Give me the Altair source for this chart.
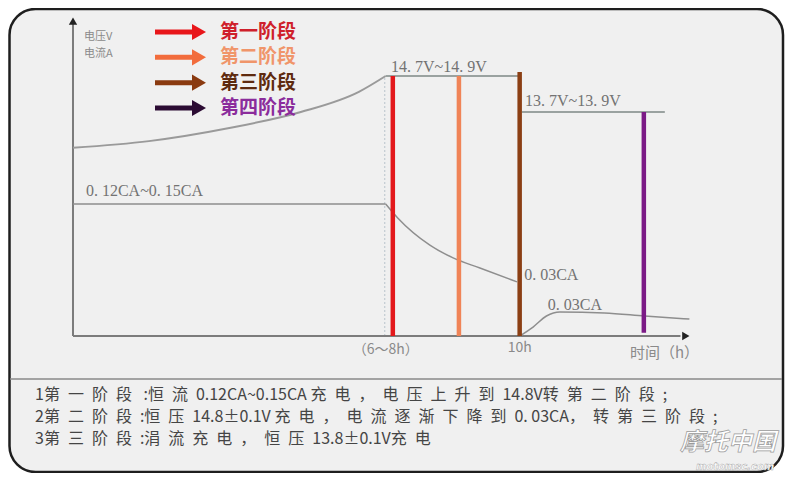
import altair as alt
import pandas as pd

# ---------------- data (time in hours, level in relative units, 0 = baseline) ----------------
volt_h = [0, 1.7, 3.5, 5.1, 6.4, 7.0, 10.0]
volt_lv = [58.8, 60.9, 65.0, 70.0, 76.3, 81.25, 81.25]
float_h = [10.05, 13.25]
float_lv = [70.0, 70.0]
cur1_h = [0, 7.0, 7.27, 7.99, 8.51, 9.11, 9.94]
cur1_lv = [41.25, 41.25, 36.9, 28.4, 24.4, 21.25, 16.9]
cur3_h = [10.0, 10.3, 10.6, 10.9, 11.9, 12.8, 13.8]
cur3_lv = [0, 2.8, 6.25, 7.5, 7.2, 6.25, 5.3]

stages = ["第一阶段", "第二阶段", "第三阶段", "第四阶段"]
stage_h = [7.16, 8.64, 10.0, 12.78]
stage_top = [81.25, 81.25, 82.5, 70.0]
stage_bottom = [0, 0, 0, 1]
bar_colors = ["#e3191c", "#f08457", "#8b3f14", "#7b1a86"]
arrow_colors = ["#e8161a", "#f26c3c", "#8a3a10", "#2b0b33"]
label_colors = ["#cf1f2b", "#f0956a", "#5e2a0e", "#8b2c9c"]

value_labels = ["14. 7V~14. 9V", "13. 7V~13. 9V", "0. 12CA~0. 15CA", "0. 03CA", "0. 03CA"]
value_label_h = [7.12, 10.12, 0.29, 10.1, 10.63]
value_label_lv = [84.0, 73.4, 45.3, 19.0, 9.7]

tick_labels = ["（6～8h）", "10h", "时间（h）"]
tick_h = [7.0, 10.0, 12.47]
tick_lv = [-4.4, -3.8, -5.3]

axis_labels = ["电压V", "电流A"]

notes = [
    "1第一阶段 :恒流0.12CA~0.15CA 充电，电压上升到14.8V转第二阶段;",
    "2第二阶段:恒压14.8±0.1V 充电，电流逐渐下降到0. 03CA，转第三阶段;",
    "3第三阶段:涓流充电，恒压13.8±0.1V充电",
]


def spaced(s):
    # the reference sets its CJK glyphs with extra tracking
    out = []
    for ch in s:
        out.append(ch)
        if ord(ch) > 0x2E80:
            out.append("\u2002")
    return "".join(out)


# ---------------- scales ----------------
X = alt.Scale(domain=[-1.4552, 15.9627], nice=False, zero=False)
Y = alt.Scale(domain=[-42.8125, 102.5], nice=False, zero=False)
XE = alt.X("h:Q", scale=X, axis=None)
YE = alt.Y("lv:Q", scale=Y, axis=None)

one = pd.DataFrame({"a": [0]})

frame = alt.Chart(one).mark_rect(
    cornerRadius=26, fill="#f0f0f0", stroke="#1e1e1e", strokeWidth=2.5
).encode(x=alt.value(1.5), x2=alt.value(775), y=alt.value(1), y2=alt.value(464))

sep = alt.Chart(one).mark_rule(color="#8a8a8a", strokeWidth=1.5).encode(
    x=alt.value(2), x2=alt.value(774), y=alt.value(371)
)

yaxis = alt.Chart(pd.DataFrame({"h": [0, 0], "lv": [0, 97.5]})).mark_line(
    color="#7c7c7c", strokeWidth=2).encode(x=XE, y=YE)
xaxis = alt.Chart(pd.DataFrame({"h": [0, 13.6], "lv": [0, 0]})).mark_line(
    color="#7c7c7c", strokeWidth=2).encode(x=XE, y=YE)
yhead = alt.Chart(pd.DataFrame({"h": [0], "lv": [98.4]})).mark_point(
    shape="triangle-up", filled=True, size=70, color="#222", opacity=1).encode(x=XE, y=YE)
xhead = alt.Chart(pd.DataFrame({"h": [13.72], "lv": [0]})).mark_point(
    shape="triangle-right", filled=True, size=70, color="#222", opacity=1).encode(x=XE, y=YE)

dotted = alt.Chart(pd.DataFrame({"h": [6.98, 6.98], "lv": [0, 81.25]})).mark_line(
    color="#b8c4cc", strokeWidth=1, strokeDash=[2, 2]).encode(x=XE, y=YE)


def curve(hs, lvs, color, width, interp="linear"):
    df = pd.DataFrame({"h": hs, "lv": lvs, "o": range(len(hs))})
    return alt.Chart(df).mark_line(color=color, strokeWidth=width, interpolate=interp).encode(
        x=XE, y=YE, order="o:Q")


volt = curve(volt_h[:6], volt_lv[:6], "#9a9a9a", 2, "monotone")
volt_flat = curve(volt_h[5:], volt_lv[5:], "#9aa2a0", 2)
flt = curve(float_h, float_lv, "#9aa2a0", 2)
cur1a = curve(cur1_h[:2], cur1_lv[:2], "#8e8e8e", 1.5)
cur1b = curve(cur1_h[1:], cur1_lv[1:], "#8e8e8e", 1.5, "monotone")
cur3 = curve(cur3_h, cur3_lv, "#8e8e8e", 1.5, "monotone")

bars_df = pd.DataFrame({"stage": stages, "h": stage_h, "top": stage_top, "bottom": stage_bottom})
bars = alt.Chart(bars_df).mark_rule(strokeWidth=4.5).encode(
    x=XE,
    y=alt.Y("bottom:Q", scale=Y, axis=None),
    y2="top:Q",
    color=alt.Color("stage:N", scale=alt.Scale(domain=stages, range=bar_colors), legend=None),
)

vl_df = pd.DataFrame({"t": value_labels, "h": value_label_h, "lv": value_label_lv})
vlabels = alt.Chart(vl_df).mark_text(
    align="left", baseline="middle", font="Liberation Serif", fontSize=16, color="#737373"
).encode(x=XE, y=YE, text="t:N")

tk_df = pd.DataFrame({"t": tick_labels, "h": tick_h, "lv": tick_lv})
tk_center = alt.Chart(tk_df.iloc[:2]).mark_text(
    align="center", baseline="middle", font="Noto Sans CJK SC", fontSize=14, color="#8a8a8a"
).encode(x=XE, y=YE, text="t:N")
tk_left = alt.Chart(tk_df.iloc[2:]).mark_text(
    align="left", baseline="middle", font="Noto Sans CJK SC", fontSize=15, color="#8a8a8a"
).encode(x=XE, y=YE, text="t:N")

axlab = alt.Chart(pd.DataFrame({"t": axis_labels})).mark_text(
    align="left", baseline="middle", font="Noto Sans CJK SC", fontSize=11, color="#8a8a8a"
).encode(
    x=alt.value(76),
    y=alt.Y("t:N", scale=alt.Scale(type="point", domain=axis_labels, range=[29, 46], padding=0), axis=None),
    text="t:N",
)

leg_df = pd.DataFrame({"stage": stages})
LY = alt.Y("stage:N", scale=alt.Scale(type="point", domain=stages, range=[24, 100], padding=0), axis=None)
leg_shaft = alt.Chart(leg_df).mark_rule(strokeWidth=5).encode(
    x=alt.value(147), x2=alt.value(186), y=LY,
    color=alt.Color("stage:N", scale=alt.Scale(domain=stages, range=arrow_colors), legend=None),
)
leg_head = alt.Chart(leg_df).mark_point(shape="triangle-right", filled=True, size=260, opacity=1).encode(
    x=alt.value(191), y=LY,
    color=alt.Color("stage:N", scale=alt.Scale(domain=stages, range=arrow_colors), legend=None),
)
leg_text = alt.Chart(leg_df).mark_text(
    align="left", baseline="middle", font="Noto Sans CJK SC", fontSize=19, fontWeight="bold"
).encode(
    x=alt.value(212), y=LY, text="stage:N",
    color=alt.Color("stage:N", scale=alt.Scale(domain=stages, range=label_colors), legend=None),
)

notes_df = pd.DataFrame({"t": [spaced(n) for n in notes]})
notes_txt = alt.Chart(notes_df).mark_text(
    align="left", baseline="middle", font="Noto Sans CJK SC", fontSize=16, color="#454545"
).encode(
    x=alt.value(27),
    y=alt.Y("t:N", scale=alt.Scale(type="point", domain=list(notes_df["t"]), range=[387, 431], padding=0), axis=None),
    text="t:N",
)

wm1 = alt.Chart(one).mark_text(
    text="摩托中国", font="Noto Sans CJK SC", fontSize=24, fontWeight="bold", fontStyle="italic",
    fill="#ffffff", stroke="#9a9a9a", strokeWidth=0.7, align="center", baseline="middle",
).encode(x=alt.value(720), y=alt.value(435))
wm2 = alt.Chart(one).mark_text(
    text="motomsc.com", font="DejaVu Sans", fontSize=10, fontWeight="bold", fontStyle="italic",
    fill="#ffffff", stroke="#a0a0a0", strokeWidth=0.4, align="center", baseline="middle",
).encode(x=alt.value(727), y=alt.value(459))

chart = alt.layer(
    frame, sep, dotted, yaxis, xaxis, yhead, xhead, volt, volt_flat, flt, cur1a, cur1b, cur3, bars,
    vlabels, tk_center, tk_left, axlab, leg_shaft, leg_head, leg_text, notes_txt, wm1, wm2,
).resolve_scale(y="independent", color="independent").properties(
    width=778, height=465, autosize=alt.AutoSizeParams(type="none"), padding=0, background="#ffffff"
).configure_view(stroke=None)

chart.save("out.html", embed_options={"renderer": "svg", "actions": False})
